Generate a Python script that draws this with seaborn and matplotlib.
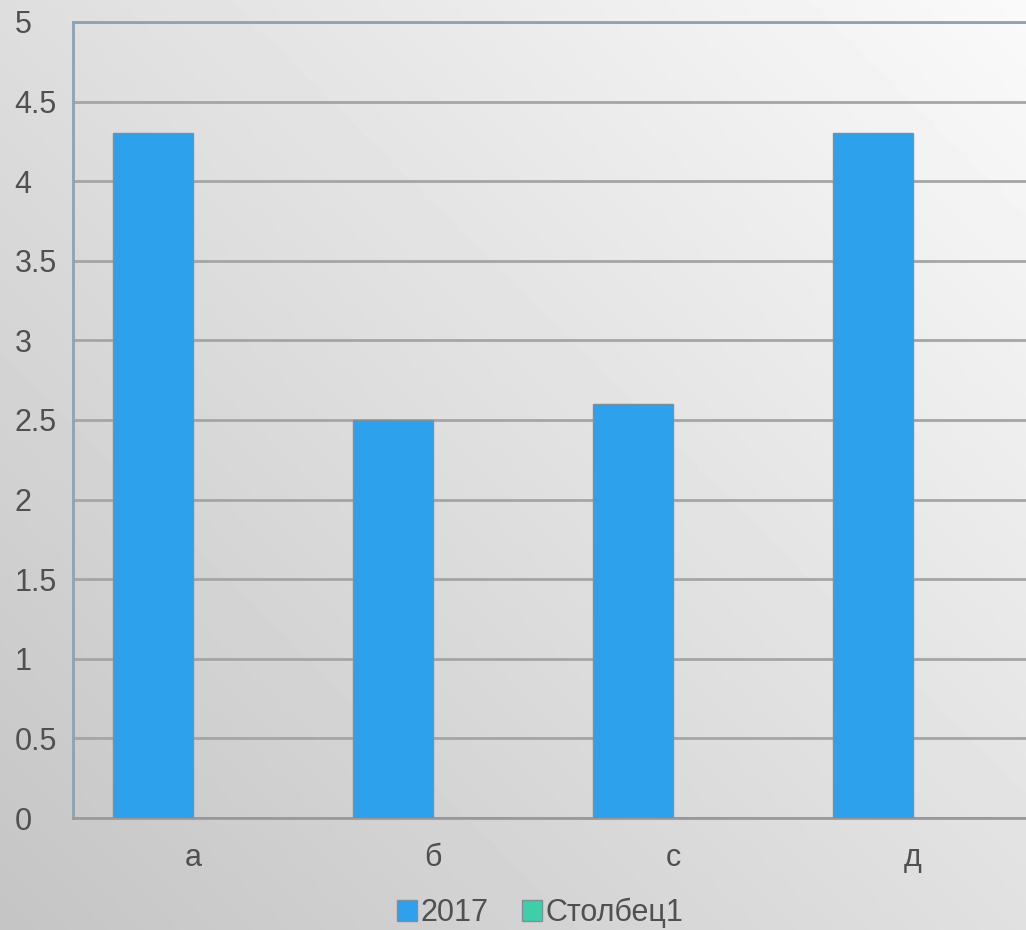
import numpy as np
import pandas as pd
import matplotlib.pyplot as plt
import seaborn as sns

categories = ['а', 'б', 'с', 'д']
series_names = ['2017', 'Столбец1']
values_2017 = [4.3, 2.5, 2.6, 4.3]
values_col1 = [0, 0, 0, 0]
y_ticks = [0, 0.5, 1, 1.5, 2, 2.5, 3, 3.5, 4, 4.5, 5]

df = pd.DataFrame({
    'cat': categories * 2,
    'series': [series_names[0]] * 4 + [series_names[1]] * 4,
    'value': values_2017 + values_col1,
})

sns.set_style('white')
plt.rcParams['font.family'] = ['Liberation Sans', 'DejaVu Sans']

fig = plt.figure(figsize=(10.26, 9.3), dpi=100)

# background gradient: light top-right, darker bottom-left
bg = fig.add_axes([0, 0, 1, 1], zorder=-10)
xx, yy = np.meshgrid(np.linspace(0, 1, 300), np.linspace(0, 1, 300))
shade = 0.77 + 0.11 * xx + 0.10 * (1 - yy)
bg.imshow(shade, cmap='gray', vmin=0, vmax=1, aspect='auto', extent=[0, 1, 0, 1], origin='upper')
bg.set_axis_off()

ax = fig.add_axes([73 / 1026, 1 - 818 / 930, 960 / 1026, 796 / 930])
ax.set_facecolor('none')

palette = {'2017': '#2ea1ec', 'Столбец1': '#3fcfa8'}
sns.barplot(data=df, x='cat', y='value', hue='series', palette=palette, width=0.667,
            edgecolor='#7f8f9a', linewidth=1, saturation=1, ax=ax, zorder=3)

ax.set_ylim(0, 5)
ax.set_yticks(y_ticks)
ax.set_yticklabels([f'{t:g}' for t in y_ticks])
ax.set_xlim(-0.5, 3.5)
ax.yaxis.grid(True, color='#a5a5a5', linewidth=2, zorder=0)
ax.set_axisbelow(True)
ax.set_xlabel('')
ax.set_ylabel('')

for side in ['left', 'top']:
    ax.spines[side].set_color('#8ea2b4')
    ax.spines[side].set_linewidth(2)
ax.spines['bottom'].set_color('#9a9a9a')
ax.spines['bottom'].set_linewidth(2)
ax.spines['right'].set_visible(False)

ax.tick_params(axis='y', length=0, labelsize=22, labelcolor='#505050', pad=42)
ax.tick_params(axis='x', length=0, labelsize=22, labelcolor='#505050', pad=18)
for lbl in ax.get_yticklabels():
    lbl.set_horizontalalignment('left')

handles, labels = ax.get_legend_handles_labels()
ax.legend(handles, labels, loc='center', bbox_to_anchor=(540 / 1026, 1 - 913 / 930),
          bbox_transform=fig.transFigure, ncol=2, frameon=False, fontsize=22,
          handlelength=0.65, handleheight=0.65, handletextpad=0.12, columnspacing=1.1,
          labelcolor='#505050')

plt.savefig('out.png', dpi=100)
